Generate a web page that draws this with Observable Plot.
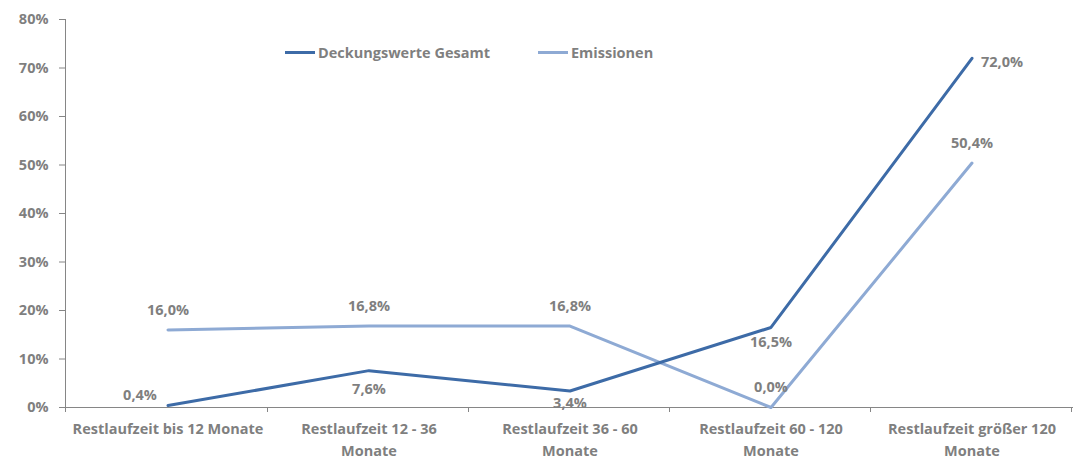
<!DOCTYPE html>
<html>
<head>
<meta charset="utf-8">
<script src="https://cdn.jsdelivr.net/npm/d3@7"></script>
<script src="https://cdn.jsdelivr.net/npm/@observablehq/plot@0.6"></script>
<style>
  html, body { margin: 0; padding: 0; background: #fff; }
  #wrap { position: relative; width: 1075px; height: 461px; font-family: "Open Sans", Lato, sans-serif; }
  .legend { position: absolute; top: 43px; left: 285px; display: flex; align-items: center; font-weight: bold; font-size: 14.5px; color: #7f7f7f; }
  .legend .item { display: flex; align-items: center; margin-right: 48px; }
  .legend .sw { width: 30px; height: 3px; margin-right: 3px; }
</style>
</head>
<body>
<div id="wrap"></div>
<script>
const categories = [
  "Restlaufzeit bis 12 Monate",
  "Restlaufzeit 12 - 36\nMonate",
  "Restlaufzeit 36 - 60\nMonate",
  "Restlaufzeit 60 - 120\nMonate",
  "Restlaufzeit größer 120\nMonate"
];
const seriesNames = ["Deckungswerte Gesamt", "Emissionen"];
const deckungswerte = [0.4, 7.6, 3.4, 16.5, 72.0];
const emissionen = [16.0, 16.8, 16.8, 0.0, 50.4];
const yTicks = [0, 10, 20, 30, 40, 50, 60, 70, 80];
const colors = ["#3d6ba7", "#8eaad4"];
const textColor = "#7f7f7f";

const rows = [];
categories.forEach((c, i) => {
  rows.push({cat: c, i, series: seriesNames[0], value: deckungswerte[i]});
  rows.push({cat: c, i, series: seriesNames[1], value: emissionen[i]});
});
const fmt = v => v.toFixed(1).replace(".", ",") + "%";
const dark = rows.filter(d => d.series === seriesNames[0]);
const light = rows.filter(d => d.series === seriesNames[1]);

const fs = 14.5;
const textStyle = {fill: textColor, fontWeight: "bold", fontSize: fs};

const chart = Plot.plot({
  width: 1075,
  height: 461,
  marginLeft: 65,
  marginRight: 2,
  marginTop: 19,
  marginBottom: 54,
  style: {fontFamily: "'Open Sans', Lato, sans-serif", background: "transparent"},
  x: {type: "band", domain: categories, padding: 0},
  y: {domain: [0, 80]},
  marks: [
    Plot.axisY({ticks: yTicks, tickSize: 6, tickPadding: 11, tickFormat: d => d + "%", stroke: "#868686", fill: textColor, fontWeight: "bold", fontSize: fs, label: null}),
    Plot.axisX({tickSize: 0, tickPadding: 11, fill: textColor, fontWeight: "bold", fontSize: fs, lineHeight: 1.5, label: null}),
    Plot.ruleY([0], {stroke: "#868686"}),
    Plot.line(light, {x: "cat", y: "value", stroke: colors[1], strokeWidth: 3}),
    Plot.line(dark, {x: "cat", y: "value", stroke: colors[0], strokeWidth: 3}),
    // light labels: above
    Plot.text(light, {x: "cat", y: "value", text: d => fmt(d.value), dy: -20, ...textStyle}),
    // dark labels
    Plot.text(dark.filter(d => d.i === 0), {x: "cat", y: "value", text: d => fmt(d.value), dx: -28, dy: -10, ...textStyle}),
    Plot.text(dark.filter(d => d.i === 1), {x: "cat", y: "value", text: d => fmt(d.value), dy: 19, ...textStyle}),
    Plot.text(dark.filter(d => d.i === 2), {x: "cat", y: "value", text: d => fmt(d.value), dy: 12, ...textStyle}),
    Plot.text(dark.filter(d => d.i === 3), {x: "cat", y: "value", text: d => fmt(d.value), dy: 15, ...textStyle}),
    Plot.text(dark.filter(d => d.i === 4), {x: "cat", y: "value", text: d => fmt(d.value), dx: 9, dy: 4, textAnchor: "start", ...textStyle})
  ]
});

// Axis lines and category boundary ticks, from the chart's own scales
const xs = chart.scale("x");
const ys = chart.scale("y");
const svg = d3.select(chart);
const x0 = xs.range[0];
const yb = ys.apply(0), yt = ys.apply(80);
const g = svg.append("g").attr("stroke", "#868686").attr("stroke-width", 1);
g.append("line").attr("x1", x0 + 0.5).attr("x2", x0 + 0.5).attr("y1", yt).attr("y2", yb + 5);
categories.forEach(c => {
  const xb = xs.apply(c) + xs.bandwidth;
  g.append("line").attr("x1", xb - 0.5).attr("x2", xb - 0.5).attr("y1", yb).attr("y2", yb + 5);
});

const wrap = document.getElementById("wrap");
wrap.appendChild(chart);
const legend = document.createElement("div");
legend.className = "legend";
seriesNames.forEach((n, k) => {
  const item = document.createElement("div");
  item.className = "item";
  const sw = document.createElement("span");
  sw.className = "sw";
  sw.style.background = colors[k];
  const t = document.createElement("span");
  t.textContent = n;
  item.appendChild(sw);
  item.appendChild(t);
  legend.appendChild(item);
});
wrap.appendChild(legend);
</script>
</body>
</html>
